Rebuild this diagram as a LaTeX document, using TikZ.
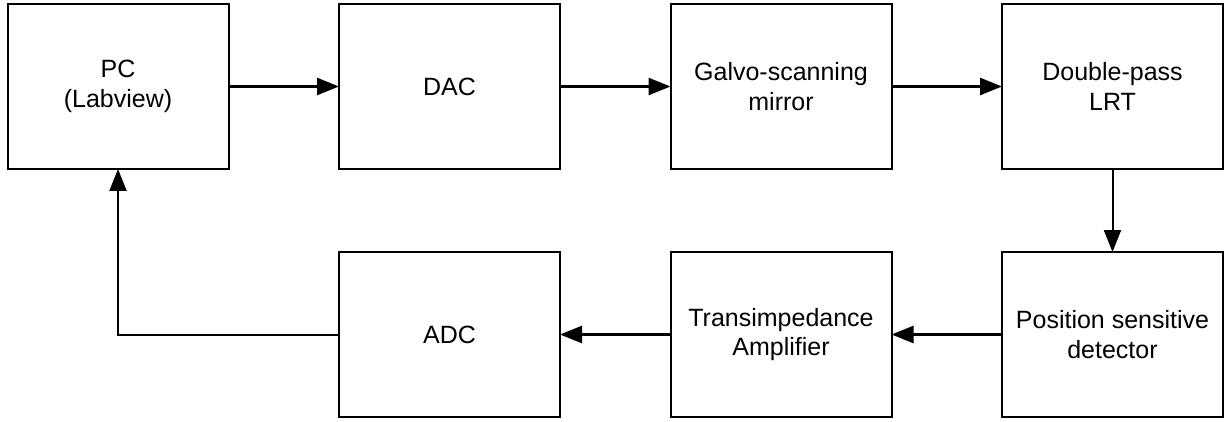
\documentclass[tikz,border=0pt]{standalone}
\usepackage{fontspec}
\setmainfont{Liberation Sans}
\usepackage{xcolor}
\definecolor{lineblk}{HTML}{000000}
\usepackage{tikz}
\usetikzlibrary{arrows.meta,positioning}
\tikzset{
  >={Triangle[length=22pt,width=17pt]},
  every picture/.style={line join=miter},
  block/.style={draw=lineblk, line width=2pt, fill=white, outer sep=0pt,
    minimum width=221pt, minimum height=165pt, align=center,
    font=\fontsize{25}{29.5}\selectfont, text=black},
  flow/.style={lineblk, line width=2.6pt, ->},
  flowthin/.style={lineblk, line width=2pt, ->},
}

\begin{document}
\begin{tikzpicture}[x=1pt, y=1pt, node distance=83pt and 110.5pt]
\useasboundingbox (0,0) rectangle (1226,421);
% top row
\node[block] (pc) at (118,334.5) {PC\\(Labview)};
\node[block, right=of pc] (dac) {DAC};
\node[block, right=of dac] (galvo) {Galvo-scanning\\mirror};
\node[block, right=of galvo] (lrt) {Double-pass\\LRT};
% bottom row
\node[block, below=of lrt] (psd) {Position sensitive\\detector};
\node[block, left=of psd] (tia) {Transimpedance\\Amplifier};
\node[block, left=of tia] (adc) {ADC};
% signal path
\draw[flow] (pc) -- (dac);
\draw[flow] (dac) -- (galvo);
\draw[flow] (galvo) -- (lrt);
\draw[flowthin] (lrt) -- (psd);
\draw[flow] (psd) -- (tia);
\draw[flow] (tia) -- (adc);
\draw[flowthin] (adc.west) -| (pc.south);
\end{tikzpicture}
\end{document}
